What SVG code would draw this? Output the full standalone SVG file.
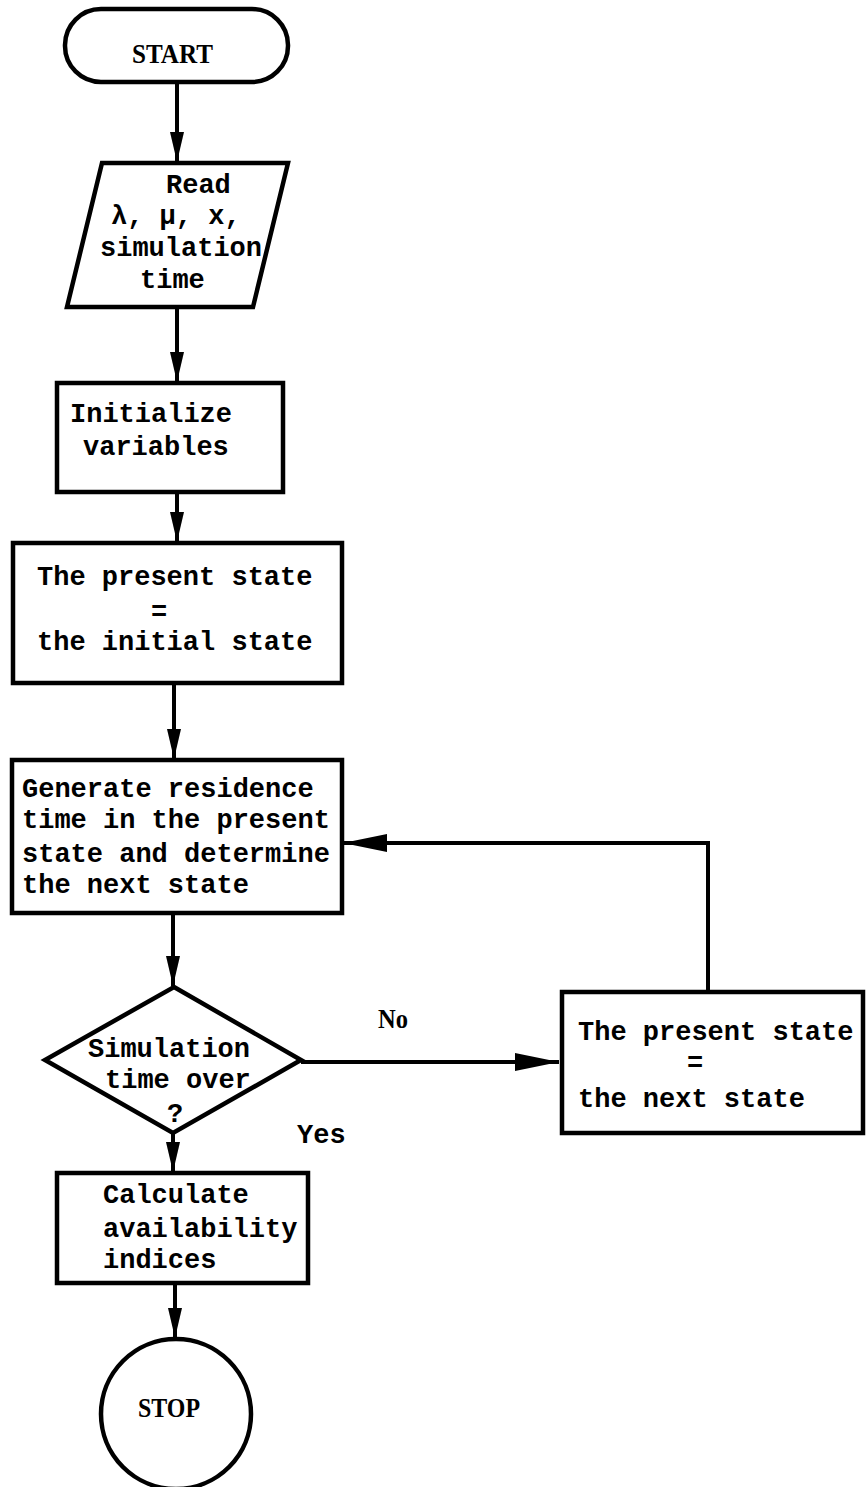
<svg xmlns="http://www.w3.org/2000/svg" width="866" height="1487" viewBox="0 0 866 1487">
<style>
.shape{fill:#fff;stroke:#000;stroke-width:4.5;stroke-linejoin:miter}
.mono{font-family:"Liberation Mono","DejaVu Sans Mono",monospace;font-weight:bold;font-size:27px;fill:#000}
.serif{font-family:"Liberation Serif","DejaVu Serif",serif;font-weight:bold;font-size:28px;fill:#000}
.conn{fill:none;stroke:#000;stroke-width:4}
</style>
<defs>
<marker id="ah" markerUnits="userSpaceOnUse" markerWidth="32" markerHeight="14" refX="30" refY="7" orient="auto" viewBox="0 0 32 14">
<path d="M0,0 L30,7 L0,14 Z" fill="#000"/>
</marker>
<marker id="ahl" markerUnits="userSpaceOnUse" markerWidth="46" markerHeight="20" refX="44" refY="10" orient="auto" viewBox="0 0 46 20">
<path d="M0,1 L44,10 L0,19 Z" fill="#000"/>
</marker>
</defs>
<rect width="866" height="1487" fill="#fff"/>
<g id="connectors">
<line class="conn" x1="177" y1="82" x2="177" y2="162" marker-end="url(#ah)"/>
<line class="conn" x1="177" y1="307" x2="177" y2="382" marker-end="url(#ah)"/>
<line class="conn" x1="177" y1="492" x2="177" y2="542" marker-end="url(#ah)"/>
<line class="conn" x1="174" y1="683" x2="174" y2="759" marker-end="url(#ah)"/>
<line class="conn" x1="173" y1="913" x2="173" y2="986" marker-end="url(#ah)"/>
<line class="conn" x1="173" y1="1133" x2="173" y2="1172" marker-end="url(#ah)"/>
<line class="conn" x1="175" y1="1283" x2="175" y2="1338" marker-end="url(#ah)"/>
<line class="conn" x1="301" y1="1062" x2="559" y2="1062" marker-end="url(#ahl)"/>
<polyline class="conn" points="708,992 708,843 343,843" marker-end="url(#ahl)"/>
</g>
<g id="start">
<rect class="shape" x="65" y="9" width="223" height="73" rx="36" ry="36"/>
<text class="serif" x="132" y="63" textLength="81" lengthAdjust="spacingAndGlyphs">START</text>
</g>
<g id="read">
<polygon class="shape" points="102,163 288,163 253,307 67,307"/>
<text class="mono" x="166" y="193">Read</text>
<text class="mono" x="111" y="224">λ, μ, x,</text>
<text class="mono" x="100" y="256">simulation</text>
<text class="mono" x="140" y="288">time</text>
</g>
<g id="init">
<rect class="shape" x="57" y="383" width="226" height="109"/>
<text class="mono" x="70" y="422">Initialize</text>
<text class="mono" x="83" y="455">variables</text>
</g>
<g id="present-initial">
<rect class="shape" x="13" y="543" width="329" height="140"/>
<text class="mono" x="37" y="585">The present state</text>
<text class="mono" x="159" y="620" text-anchor="middle">=</text>
<text class="mono" x="37" y="650">the initial state</text>
</g>
<g id="generate">
<rect class="shape" x="12" y="760" width="330" height="153"/>
<text class="mono" x="22" y="797">Generate residence</text>
<text class="mono" x="22" y="828">time in the present</text>
<text class="mono" x="22" y="862">state and determine</text>
<text class="mono" x="22" y="893">the next state</text>
</g>
<g id="decision">
<polygon class="shape" points="174,987 301,1060 173,1133 45,1060"/>
<text class="mono" x="88" y="1057">Simulation</text>
<text class="mono" x="105" y="1088">time over</text>
<text class="mono" x="167" y="1122">?</text>
</g>
<g id="present-next">
<rect class="shape" x="562" y="992" width="301" height="141"/>
<text class="mono" x="578" y="1040">The present state</text>
<text class="mono" x="695" y="1071" text-anchor="middle">=</text>
<text class="mono" x="578" y="1107">the next state</text>
</g>
<g id="calculate">
<rect class="shape" x="57" y="1173" width="251" height="110"/>
<text class="mono" x="103" y="1203">Calculate</text>
<text class="mono" x="103" y="1237">availability</text>
<text class="mono" x="103" y="1268">indices</text>
</g>
<g id="stop">
<circle class="shape" cx="176" cy="1414" r="75"/>
<text class="serif" x="138" y="1417" textLength="62" lengthAdjust="spacingAndGlyphs">STOP</text>
</g>
<g id="labels">
<text class="serif" x="378" y="1028" textLength="30" lengthAdjust="spacingAndGlyphs">No</text>
<text class="mono" x="297" y="1143">Yes</text>
</g>
</svg>
